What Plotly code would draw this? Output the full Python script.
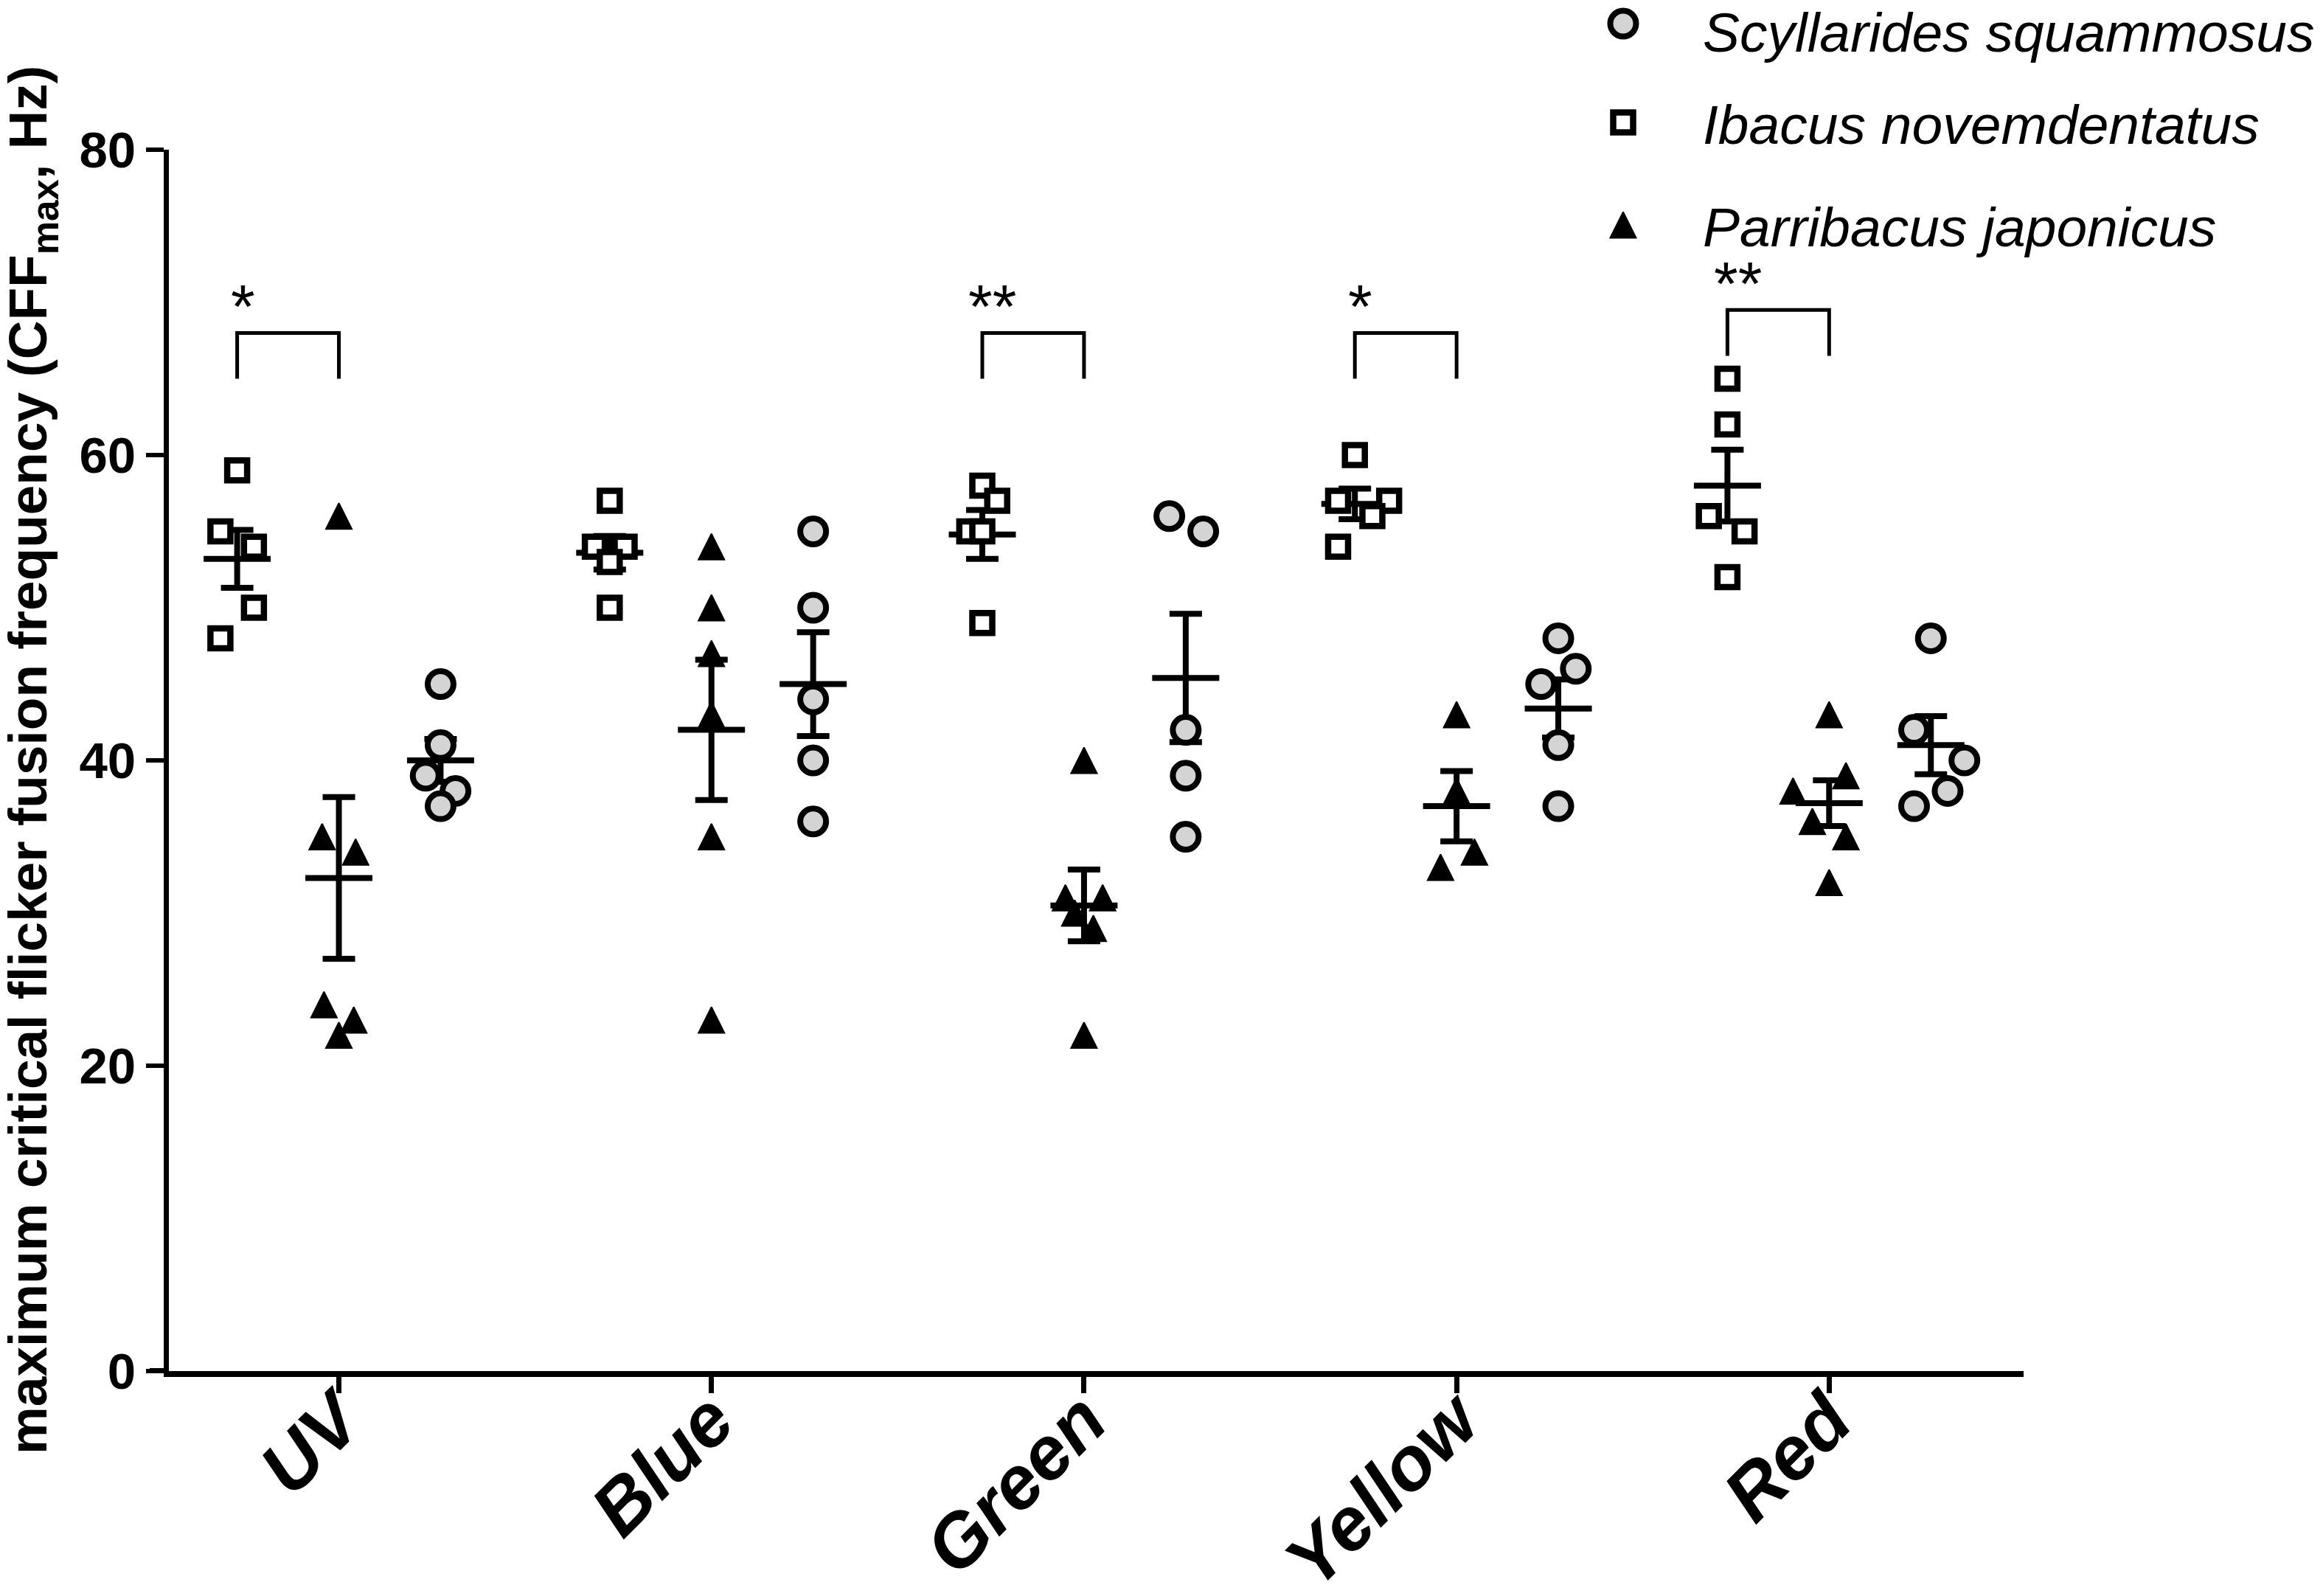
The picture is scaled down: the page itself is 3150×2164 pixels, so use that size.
import plotly.graph_objects as go

# light colours used as stimuli (x categories)
colours = ["UV", "Blue", "Green", "Yellow", "Red"]

# individual CFFmax values (Hz), one list per colour
ibacus = [[59, 55, 54, 50, 48], [57, 54, 54, 53, 50], [58, 57, 55, 55, 49],
          [60, 57, 57, 56, 54], [65, 62, 56, 55, 52]]
parribacus = [[56, 35, 34, 24, 23, 22], [54, 50, 47, 43, 35, 23], [40, 31, 31, 30, 29, 22],
              [43, 38, 34, 33], [43, 39, 38, 36, 35, 32]]
scyllarides = [[45, 41, 39, 38, 37], [55, 50, 44, 40, 36], [56, 55, 42, 39, 35],
               [48, 46, 45, 41, 37], [48, 42, 40, 38, 37]]

# mean and SEM lines as drawn
ibacus_mean = [53.2, 53.6, 54.8, 56.8, 58.0]
ibacus_sem = [1.9, 1.1, 1.6, 1.0, 2.35]
parribacus_mean = [32.3, 42.0, 30.5, 37.0, 37.2]
parribacus_sem = [5.3, 4.6, 2.35, 2.3, 1.5]
scyllarides_mean = [40.0, 45.0, 45.4, 43.4, 41.0]
scyllarides_sem = [1.4, 3.4, 4.2, 1.9, 1.9]

# significance brackets (Ibacus vs Parribacus)
sig_colours = ["UV", "Green", "Yellow", "Red"]
sig_top = [68, 68, 68, 69.5]
sig_text = ["*", "**", "*", "**"]

# sideways scatter of overlapping points (fraction of the category spacing)
ibacus_spread = [[0, -0.045, 0.045, 0.045, -0.045], [0, -0.04, 0.04, 0, 0],
                 [0, 0.04, -0.035, 0.0, 0], [0, -0.045, 0.092, 0.047, -0.045],
                 [0, 0, -0.05, 0.046, 0]]
parribacus_spread = [[0, -0.045, 0.045, -0.04, 0.04, 0], [0, 0, 0, 0, 0, 0],
                     [0, -0.05, 0.05, -0.025, 0.025, 0], [0, 0, 0.048, -0.043],
                     [0, 0.045, -0.097, -0.045, 0.045, 0]]
scyllarides_spread = [[0, 0, -0.04, 0.04, 0], [0, 0, 0, 0, 0], [-0.044, 0.047, 0, 0, 0],
                      [0, 0.047, -0.046, 0, 0], [0, -0.045, 0.09, 0.045, -0.045]]

FONT = "Liberation Sans, Arial, sans-serif"
W, H = 3134, 2148
ML, MR, MT, MB = 221, 398, 10, 297
PLOT_W = W - ML - MR
GROUP_OFFSET = {"ibacus": -0.273, "parribacus": 0.0, "scyllarides": 0.273}

MARKERS = {
    "ibacus": dict(symbol="square", size=27, color="white",
                   line=dict(color="black", width=8.5)),
    "parribacus": dict(symbol="arrow-down", angle=180, standoff=17.5, size=35,
                       color="black", line=dict(color="black", width=2)),
    "scyllarides": dict(symbol="circle", size=35, color="#d4d4d4",
                        line=dict(color="black", width=8)),
}

series = [
    ("ibacus", ibacus, ibacus_mean, ibacus_sem, ibacus_spread),
    ("parribacus", parribacus, parribacus_mean, parribacus_sem, parribacus_spread),
    ("scyllarides", scyllarides, scyllarides_mean, scyllarides_sem, scyllarides_spread),
]

fig = go.Figure()

# mean + SEM first so the points sit on top
for key, pts, mean, sem, spread in series:
    off = GROUP_OFFSET[key]
    fig.add_trace(go.Scatter(
        x=[i + 1 + off for i in range(len(colours))], y=mean,
        mode="markers", showlegend=False, cliponaxis=False, hoverinfo="skip",
        marker=dict(symbol="line-ew", size=65, line=dict(color="black", width=8)),
        error_y=dict(type="data", array=sem, width=22, thickness=8, color="black"),
    ))

for key, pts, mean, sem, spread in series:
    off = GROUP_OFFSET[key]
    xs, ys = [], []
    for i, vals in enumerate(pts):
        for v, s in zip(vals, spread[i]):
            xs.append(i + 1 + off + s)
            ys.append(v)
    fig.add_trace(go.Scatter(x=xs, y=ys, mode="markers", showlegend=False,
                             cliponaxis=False, marker=MARKERS[key]))

# significance brackets
bx, by = [], []
for c, top in zip(sig_colours, sig_top):
    i = colours.index(c) + 1
    left = i + GROUP_OFFSET["ibacus"]
    right = i + GROUP_OFFSET["parribacus"]
    bx += [left, left, right, right, None]
    by += [top - 3, top, top, top - 3, None]
fig.add_trace(go.Scatter(x=bx, y=by, mode="lines", showlegend=False, cliponaxis=False,
                         hoverinfo="skip", line=dict(color="black", width=5)))

annotations = []
for c, top, txt in zip(sig_colours, sig_top, sig_text):
    i = colours.index(c) + 1
    annotations.append(dict(
        x=i + GROUP_OFFSET["ibacus"] + 0.015 + 0.012 * (len(txt) - 1), y=top + 1.7,
        xref="x", yref="y", text=txt, showarrow=False,
        font=dict(family=FONT, size=84, color="black"),
    ))

# y axis title
annotations.append(dict(
    x=-0.0739, y=0.4498, xref="paper", yref="paper", textangle=-90, showarrow=False,
    xanchor="center", yanchor="middle",
    text="maximum critical flicker fusion frequency (CFF<sub>max</sub>, Hz)",
    font=dict(family=FONT, size=73, color="black", weight="bold"),
))

# hand-made legend (plotly's legend caps marker size), drawn on a full-height overlay axis
legend_names = ["Scyllarides squammosus", "Ibacus novemdentatus", "Parribacus japonicus"]
legend_keys = ["scyllarides", "ibacus", "parribacus"]
legend_rows = [0.9924, 0.9196, 0.8441]
legend_text_rows = [0.9860, 0.9180, 0.8425]
for key, row in zip(legend_keys, legend_rows):
    fig.add_trace(go.Scatter(x=[0.7841], y=[row], xaxis="x2", yaxis="y2",
                             mode="markers", showlegend=False, cliponaxis=False,
                             hoverinfo="skip", marker=MARKERS[key]))
for name, row in zip(legend_names, legend_text_rows):
    annotations.append(dict(
        x=0.8262, y=row, xref="paper", yref="paper", xanchor="left", yanchor="middle",
        text="<i>" + name + "</i>", showarrow=False,
        font=dict(family=FONT, size=75, color="black"),
    ))

# x axis runs a little past the y axis, as in the original
shapes = [dict(type="line", xref="paper", yref="y", x0=-26 / PLOT_W, x1=0, y0=0, y1=0,
               line=dict(color="black", width=8))]

fig.update_layout(
    template="none",
    width=W, height=H,
    margin=dict(l=ML, r=MR, t=MT, b=MB, pad=0),
    plot_bgcolor="rgba(0,0,0,0)", paper_bgcolor="white",
    font=dict(family=FONT, color="black"),
    showlegend=False,
    annotations=annotations,
    shapes=shapes,
    xaxis=dict(
        range=[0.5437, 5.5219], tickmode="array", tickvals=[1, 2, 3, 4, 5], ticktext=colours,
        ticks="outside", ticklen=22, tickwidth=7, tickcolor="black",
        showline=True, linewidth=8, linecolor="black", showgrid=False, zeroline=False,
        tickangle=-45, ticklabelstandoff=-64, automargin=False,
        tickfont=dict(family=FONT, size=102, color="black", weight="bold", style="italic"),
    ),
    yaxis=dict(
        domain=[0, 0.8995],
        range=[0, 80], tickmode="array", tickvals=[0, 20, 40, 60, 80],
        ticks="outside", ticklen=24, tickwidth=6, tickcolor="black",
        showline=True, linewidth=7, linecolor="black", showgrid=False, zeroline=False,
        automargin=False,
        tickfont=dict(family=FONT, size=69, color="black", weight="bold"),
    ),
    xaxis2=dict(domain=[0, 1], range=[0, 1], anchor="y2", visible=False, fixedrange=True),
    yaxis2=dict(domain=[0, 1], range=[0, 1], anchor="x2", visible=False, fixedrange=True),
)

fig.write_html("out.html")
